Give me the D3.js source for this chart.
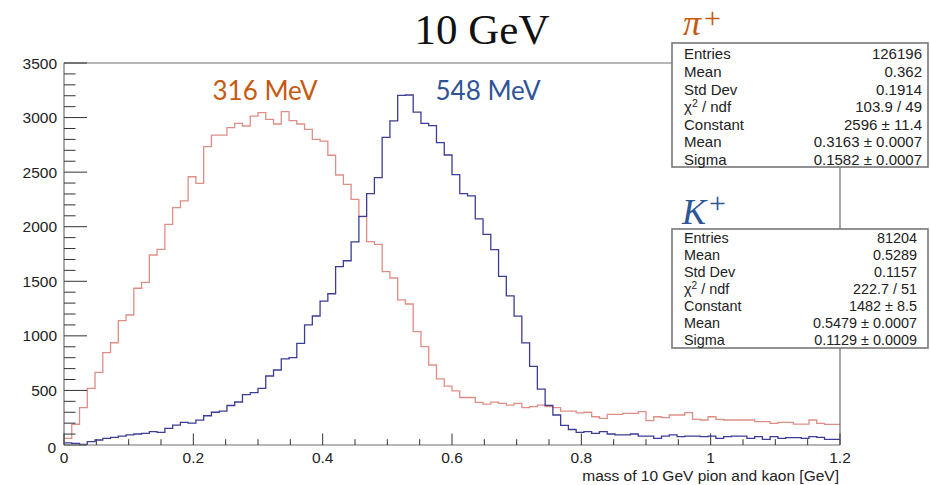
<!DOCTYPE html>
<html>
<head>
<meta charset="utf-8">
<script src="https://cdn.jsdelivr.net/npm/d3@7"></script>
<style>
  html, body { margin: 0; padding: 0; background: #fff; }
  svg { display: block; }
</style>
</head>
<body>
<svg id="chart" width="930" height="485"></svg>
<script>
// Histogram binning: 100 bins over 0 – 1.2 GeV
const binCount = 100;
const xRange = [0, 1.2];

// pi+ reconstructed mass, counts per bin
const pionCounts = [
  60, 190, 342, 519, 666, 846, 937, 1139, 1191, 1436,
  1490, 1741, 1793, 2022, 2175, 2236, 2458, 2398, 2733, 2840,
  2840, 2907, 2947, 2923, 3014, 3045, 2984, 2941, 3054, 2972,
  2941, 2892, 2801, 2785, 2655, 2474, 2388, 2250, 2092, 1863,
  1839, 1588, 1530, 1329, 1292, 1038, 901, 733, 605, 540,
  495, 435, 435, 390, 374, 393, 382, 366, 382, 342,
  351, 366, 351, 342, 310, 311, 295, 300, 259, 244,
  281, 281, 290, 290, 305, 223, 259, 250, 275, 275,
  296, 235, 229, 259, 235, 229, 229, 229, 229, 214,
  214, 198, 207, 207, 192, 192, 229, 198, 189, 189
];

// K+ reconstructed mass, counts per bin
const kaonCounts = [
  20, 15, 5, 31, 46, 61, 70, 82, 92, 101,
  107, 122, 116, 153, 183, 208, 200, 228, 268, 300,
  310, 362, 394, 462, 479, 519, 632, 687, 790, 800,
  932, 1100, 1182, 1318, 1386, 1634, 1688, 1862, 2095, 2303,
  2449, 2818, 2970, 3203, 3207, 3050, 2947, 2926, 2770, 2657,
  2478, 2303, 2283, 2072, 1930, 1790, 1545, 1366, 1180, 935,
  720, 512, 363, 275, 180, 142, 115, 122, 107, 122,
  101, 92, 92, 101, 82, 82, 61, 82, 92, 76,
  82, 82, 76, 82, 61, 76, 82, 82, 61, 76,
  52, 76, 61, 67, 67, 61, 76, 70, 52, 52
];

// Axis ticks
const yMajorTicks = [0, 500, 1000, 1500, 2000, 2500, 3000, 3500];
const xMajorTicks = [0, 0.2, 0.4, 0.6, 0.8, 1, 1.2];
const xTickLabels = ["0", "0.2", "0.4", "0.6", "0.8", "1", "1.2"];

// Fit statistics boxes
const pionStatLabels = ["Entries", "Mean", "Std Dev", "χ2 / ndf", "Constant", "Mean", "Sigma"];
const pionStatValues = ["126196", "0.362", "0.1914", "103.9 / 49", "2596 ± 11.4", "0.3163 ± 0.0007", "0.1582 ± 0.0007"];
const kaonStatLabels = ["Entries", "Mean", "Std Dev", "χ2 / ndf", "Constant", "Mean", "Sigma"];
const kaonStatValues = ["81204", "0.5289", "0.1157", "222.7 / 51", "1482 ± 8.5", "0.5479 ± 0.0007", "0.1129 ± 0.0009"];

const svg = d3.select("#chart");
const x = d3.scaleLinear().domain(xRange).range([64, 840]);
const y = d3.scaleLinear().domain([0, 3500]).range([445, 63]);

const binWidth = (xRange[1] - xRange[0]) / binCount;
const axisGrey = "#6e6e6e";
const labelFont = "'Liberation Sans', Arial, Helvetica, sans-serif";

// Clip region for the histogram lines
svg.append("clipPath").attr("id", "plotClip")
  .append("rect").attr("x", 64).attr("y", 63).attr("width", 776).attr("height", 382);

// Step outline of a histogram
function stepPoints(counts) {
  const pts = counts.map((c, i) => [xRange[0] + i * binWidth, c]);
  pts.push([xRange[1], counts[counts.length - 1]]);
  return pts;
}
const stepLine = d3.line()
  .x(d => x(d[0]))
  .y(d => y(d[1]))
  .curve(d3.curveStepAfter);

const plot = svg.append("g").attr("clip-path", "url(#plotClip)");
plot.append("path")
  .attr("d", stepLine(stepPoints(pionCounts)))
  .attr("fill", "none")
  .attr("stroke", "#df8e86")
  .attr("stroke-width", 1.3);
plot.append("path")
  .attr("d", stepLine(stepPoints(kaonCounts)))
  .attr("fill", "none")
  .attr("stroke", "#3b3d96")
  .attr("stroke-width", 1.3);

// Frame: top and right edges
svg.append("path")
  .attr("d", `M${x(0)},${y(3500)}H${x(1.2)}V${y(0)}`)
  .attr("fill", "none").attr("stroke", axisGrey).attr("stroke-width", 1.2);

// Y axis with major and minor ticks pointing inward
const yAxis = svg.append("g").attr("transform", `translate(${x(0)},0)`);
yAxis.append("line").attr("x1", 0).attr("x2", 0).attr("y1", y(0)).attr("y2", y(3500))
  .attr("stroke", axisGrey).attr("stroke-width", 1.2);
yAxis.selectAll("line.minor").data(d3.range(0, 3501, 100))
  .join("line").attr("class", "minor")
  .attr("x1", 0).attr("x2", d => d % 500 === 0 ? 23 : 11.5)
  .attr("y1", d => y(d)).attr("y2", d => y(d))
  .attr("stroke", "#333").attr("stroke-width", 1);
yAxis.selectAll("text").data(yMajorTicks)
  .join("text")
  .attr("x", d => d === 0 ? -8 : -7)
  .attr("y", d => y(d) + (d === 0 ? 2 : 0))
  .attr("dy", "0.36em")
  .attr("text-anchor", "end")
  .attr("font-family", labelFont).attr("font-size", 15.5).attr("fill", "#222")
  .text(d => d);

// X axis with major and minor ticks pointing inward
const xAxis = svg.append("g").attr("transform", `translate(0,${y(0)})`);
xAxis.append("line").attr("x1", x(0)).attr("x2", x(1.2)).attr("y1", 0).attr("y2", 0)
  .attr("stroke", axisGrey).attr("stroke-width", 1.2);
xAxis.selectAll("line.tick").data(d3.range(0, 25).map(i => i * 0.05))
  .join("line").attr("class", "tick")
  .attr("x1", d => x(d)).attr("x2", d => x(d))
  .attr("y1", 0).attr("y2", (d, i) => i % 4 === 0 ? -11.5 : -5.8)
  .attr("stroke", "#333").attr("stroke-width", 1);
xAxis.selectAll("text").data(xMajorTicks)
  .join("text")
  .attr("x", d => x(d)).attr("y", 17.5)
  .attr("text-anchor", "middle")
  .attr("font-family", labelFont).attr("font-size", 15.5).attr("fill", "#222")
  .text((d, i) => xTickLabels[i]);

svg.append("text")
  .attr("x", 839).attr("y", 480.5)
  .attr("text-anchor", "end")
  .attr("font-family", labelFont).attr("font-size", 15.5).attr("fill", "#222")
  .text("mass of 10 GeV pion and kaon [GeV]");

// Title and peak annotations
svg.append("text")
  .attr("x", 482).attr("y", 44)
  .attr("text-anchor", "middle")
  .attr("font-family", "'Liberation Serif', 'DejaVu Serif', serif").attr("font-size", 43)
  .attr("fill", "#111")
  .text("10 GeV");

svg.append("text")
  .attr("x", 265).attr("y", 100)
  .attr("text-anchor", "middle")
  .attr("font-family", "Lato, 'Noto Sans', sans-serif").attr("font-size", 26)
  .attr("fill", "#c55a11")
  .text("316 MeV");

svg.append("text")
  .attr("x", 488).attr("y", 100)
  .attr("text-anchor", "middle")
  .attr("font-family", "Lato, 'Noto Sans', sans-serif").attr("font-size", 26)
  .attr("fill", "#2f5597")
  .text("548 MeV");

// Particle labels above the stats boxes
function particleLabel(xPos, yPos, base, color, plusLift) {
  const t = svg.append("text")
    .attr("x", xPos).attr("y", yPos)
    .attr("font-family", "'Liberation Serif', 'DejaVu Serif', serif")
    .attr("font-size", 36).attr("font-style", "italic")
    .attr("fill", color);
  t.append("tspan").text(base);
  t.append("tspan").attr("dy", -plusLift).attr("dx", 3)
    .attr("font-size", 30).attr("font-style", "normal").text("+");
}
particleLabel(683, 35, "π", "#c55a11", 7);
particleLabel(682, 224, "K", "#2f5597", 11);

// Stats boxes
function statBox(x0, y0, w, h, labels, values, rowTop, rowStep, fontSize, rightX) {
  const g = svg.append("g");
  g.append("rect")
    .attr("x", x0).attr("y", y0).attr("width", w).attr("height", h)
    .attr("fill", "#fff").attr("stroke", "#777").attr("stroke-width", 1.6);
  labels.forEach((lab, i) => {
    const cy = rowTop + i * rowStep;
    const t = g.append("text")
      .attr("x", x0 + 12).attr("y", cy).attr("dy", "0.36em")
      .attr("font-family", labelFont).attr("font-size", fontSize).attr("fill", "#222");
    if (lab.startsWith("χ2")) {
      t.append("tspan").text("χ");
      t.append("tspan").attr("dy", -5).attr("font-size", fontSize * 0.7).text("2");
      t.append("tspan").attr("dy", 5).text(" / ndf");
    } else {
      t.text(lab);
    }
    g.append("text")
      .attr("x", rightX).attr("y", cy).attr("dy", "0.36em")
      .attr("text-anchor", "end")
      .attr("font-family", labelFont).attr("font-size", fontSize).attr("fill", "#222")
      .text(values[i]);
  });
}
statBox(672, 43, 256, 124, pionStatLabels, pionStatValues, 54, 17.6, 15, 922);
statBox(672, 229, 256, 119, kaonStatLabels, kaonStatValues, 237.5, 17, 14.4, 917);
</script>
</body>
</html>
